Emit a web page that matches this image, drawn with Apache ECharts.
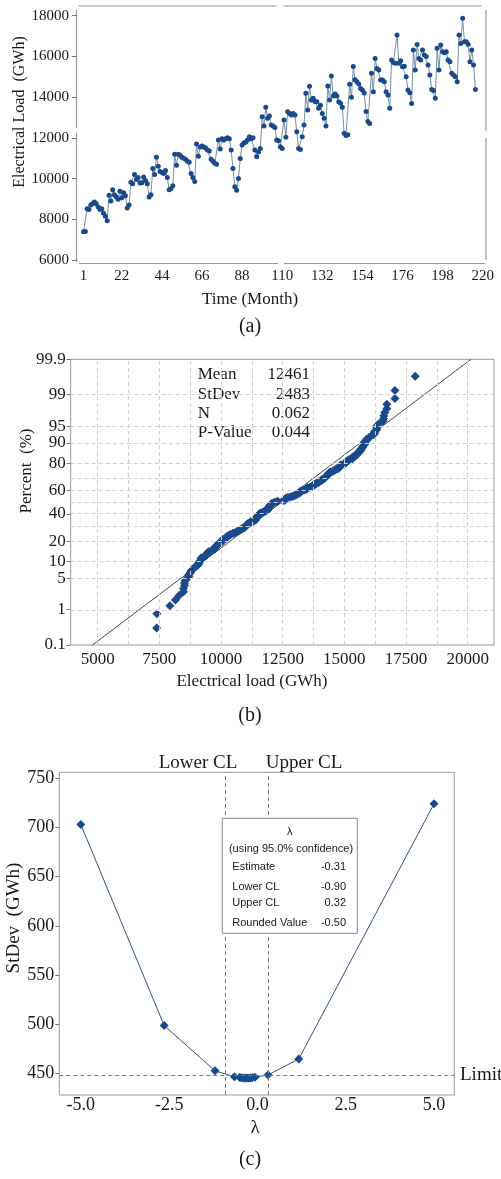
<!DOCTYPE html>
<html><head><meta charset="utf-8">
<script src="https://cdn.jsdelivr.net/npm/echarts@6/dist/echarts.min.js"></script>
<style>html,body{margin:0;padding:0;background:#fff}#c{width:501px;height:1179px}</style>
</head><body><div id="c"></div><script>
// ---------- (a) monthly electrical load (GWh) ----------
const loadGWh = [
 7390, 7400,
 8520, 8480, 8700, 8780, 8850, 8760, 8620, 8480, 8520, 8300, 8150, 7930,
 9180, 8900, 9450, 9200, 9100, 8980, 9380, 9060, 9300, 9150, 8550, 8700,
 9820, 9750, 10200, 9950, 10050, 9780, 9800, 10080, 9900, 9750, 9100, 9200,
 10500, 10200, 11050, 10600, 10350, 10300, 10250, 10400, 10050, 9450, 9500, 9650,
 11200, 10650, 11200, 11150, 11050, 11000, 10950, 10850, 10800, 10250, 10050, 9850,
 11700, 11100, 11550, 11600, 11550, 11500, 11400, 11350, 10950, 10850, 10750, 10700,
 11900, 11450, 11950, 11900, 11950, 12000, 11950, 11400, 10500, 9600, 9430, 10000,
 10990, 11650, 11750, 11800, 11900, 12050, 11950, 12000, 11400, 11070, 11300, 11480,
 13040, 12580, 13500, 12960, 13070, 12630, 12580, 12510, 11890, 11860, 11560, 11480,
 12880, 12030, 13280, 13200, 13120, 13200, 13120, 12300, 11480, 11430, 12060, 12630,
 14190, 13370, 14540, 13860, 13940, 13780, 13770, 13450, 13600, 13200, 12960, 12580,
 14550, 13860, 15040, 14060, 14150, 14050, 13770, 13700, 13500, 12220, 12120, 12150,
 14630, 14000, 15500, 14850, 14750, 14650, 14430, 14350, 14200, 13300, 12800, 12710,
 15170, 14270, 15900, 15410, 15330, 14840, 14840, 14760, 14270, 14100, 13450,
 15820, 15700, 15660, 17050, 15660, 15790, 15490, 15520, 15000, 14350, 14220, 13690,
 16310, 15330, 16590, 15900, 15820, 16310, 16070, 15990, 15580, 15090, 14380, 14320, 13940,
 16400, 15330, 16560, 16230, 16180, 16230, 15820, 15740, 15170, 15090, 15000, 14760,
 17050, 16640, 17870, 16720, 16720, 16600, 15740, 16320, 15580, 14380
];
const aXTicks = [1, 22, 44, 66, 88, 110, 132, 154, 176, 198, 220];
const aYTicks = [6000, 8000, 10000, 12000, 14000, 16000, 18000];

// ---------- (b) normal probability plot ----------
const statNames = ['Mean', 'StDev', 'N', 'P-Value'];
const statTexts = ['12461', '2483', '0.062', '0.044'];
const fitMean = 12461;
const fitStDev = 2483;
const bXTicks = [5000, 7500, 10000, 12500, 15000, 17500, 20000];
const bXGrid = [5000, 6250, 7500, 8750, 10000, 11250, 12500, 13750, 15000, 16250, 17500, 18750, 20000];
const bYTicks = [0.1, 1, 5, 10, 20, 40, 60, 80, 90, 95, 99, 99.9];
const bYGrid = [1, 5, 10, 20, 30, 40, 50, 60, 70, 80, 90, 95, 99];

// ---------- (c) Box-Cox plot ----------
const lambdas = [-5, -2.64, -1.2, -0.65, -0.5, -0.45, -0.4, -0.35, -0.3, -0.25, -0.2, -0.15, -0.07, 0.3, 1.17, 5];
const stDevs  = [703, 498.5, 452.5, 446.5, 445.8, 445.5, 445.3, 445.2, 445.2, 445.2, 445.3, 445.5, 446, 448.3, 464.5, 724];
const cXTicks = [-5, -2.5, 0, 2.5, 5];
const cYTicks = [450, 500, 550, 600, 650, 700, 750];
const lowerCL = -0.90, upperCL = 0.32, limitSD = 448;
const boxRows = [['Estimate', '-0.31'], ['Lower CL', '-0.90'], ['Upper CL', '0.32'], ['Rounded Value', '-0.50']];

// inverse standard normal CDF (Acklam)
function probit(p) {
  const a=[-3.969683028665376e+01,2.209460984245205e+02,-2.759285104469687e+02,1.383577518672690e+02,-3.066479806614716e+01,2.506628277459239e+00];
  const b=[-5.447609879822406e+01,1.615858368580409e+02,-1.556989798598866e+02,6.680131188771972e+01,-1.328068155288572e+01];
  const c=[-7.784894002430293e-03,-3.223964580411365e-01,-2.400758277161838e+00,-2.549732539343734e+00,4.374664141464968e+00,2.938163982698783e+00];
  const d=[7.784695709041462e-03,3.224671290700398e-01,2.445134137142996e+00,3.754408661907416e+00];
  const pl=0.02425, ph=1-pl; let q,r;
  if (p<pl){q=Math.sqrt(-2*Math.log(p));return (((((c[0]*q+c[1])*q+c[2])*q+c[3])*q+c[4])*q+c[5])/((((d[0]*q+d[1])*q+d[2])*q+d[3])*q+1);}
  if (p<=ph){q=p-0.5;r=q*q;return (((((a[0]*r+a[1])*r+a[2])*r+a[3])*r+a[4])*r+a[5])*q/(((((b[0]*r+b[1])*r+b[2])*r+b[3])*r+b[4])*r+1);}
  q=Math.sqrt(-2*Math.log(1-p));return -(((((c[0]*q+c[1])*q+c[2])*q+c[3])*q+c[4])*q+c[5])/((((d[0]*q+d[1])*q+d[2])*q+d[3])*q+1);
}

const SERIF = "'Liberation Serif','Times New Roman',serif";
const SANS = "'Liberation Sans',Arial,sans-serif";
const BLUE = '#1a4a8c';
const TXT = '#1a1a1a';

// derived data
const aData = loadGWh.map((v, i) => [i + 1, v]);
const n = loadGWh.length;
const sorted = loadGWh.slice().sort((x, y) => x - y);
const zMax = probit(0.999);
const zPad = zMax + 0.0002;
const bData = sorted.map((v, i) => [v, probit((i + 1 - 0.3) / (n + 0.4))]);
const bFit = [[fitMean - zMax * fitStDev, -zMax], [fitMean + zMax * fitStDev, zMax]];
const bYTickZ = bYTicks.map(p => probit(p / 100));
const cData = lambdas.map((l, i) => [l, stDevs[i]]);

function zLabel(z) {
  let best = 0;
  bYTickZ.forEach((t, i) => { if (Math.abs(t - z) < Math.abs(bYTickZ[best] - z)) best = i; });
  return String(bYTicks[best]);
}

const chart = echarts.init(document.getElementById('c'), null, {renderer: 'canvas'});

const gLine = (x1, y1, x2, y2, color, dash) => ({type: 'line', silent: true,
  shape: {x1, y1, x2, y2}, style: {stroke: color || '#9a9a9a', lineWidth: 1.2, lineDash: dash || null}});
const gText = (text, x, y, font, opts) => Object.assign({type: 'text', x, y, silent: true,
  style: Object.assign({text, font, fill: TXT, textAlign: 'center', textVerticalAlign: 'middle'}, (opts && opts.style) || {})},
  (opts && opts.el) || {});
const noLine = {show: false, onZero: false};

const option = {
  animation: false,
  backgroundColor: '#fff',
  grid: [
    {left: 83.5, right: 18.3, top: 15.7, height: 244.3},
    {left: 70.7, top: 359.3, width: 423.3, height: 285.7, show: true, borderColor: '#9a9a9a', borderWidth: 1},
    {left: 59.3, top: 772.3, width: 395, height: 322.7, show: true, borderColor: '#9a9a9a', borderWidth: 1}
  ],
  xAxis: [
    {gridIndex: 0, type: 'value', min: 1, max: 220, offset: 3,
     axisLine: noLine, axisTick: {show: false}, splitLine: {show: false},
     axisLabel: {customValues: aXTicks, color: TXT, fontFamily: SERIF, fontSize: 15, margin: 6, formatter: v => String(v)}},
    {gridIndex: 1, type: 'value', min: 3906, max: 21066,
     axisLine: noLine, axisTick: {show: false}, splitLine: {show: false},
     axisLabel: {customValues: bXTicks, color: TXT, fontFamily: SERIF, fontSize: 17, margin: 6, formatter: v => String(v)}},
    {gridIndex: 2, type: 'value', min: -5.61, max: 5.575,
     axisLine: noLine, axisTick: {show: false}, splitLine: {show: false},
     axisLabel: {customValues: cXTicks, color: TXT, fontFamily: SERIF, fontSize: 18, margin: 1, formatter: v => v.toFixed(1)}}
  ],
  yAxis: [
    {gridIndex: 0, type: 'value', min: 6000, max: 18000, interval: 2000, offset: 6.5,
     axisLine: noLine, splitLine: {show: false},
     axisTick: {show: true, length: 5, lineStyle: {color: '#777'}},
     axisLabel: {color: TXT, fontFamily: SERIF, fontSize: 15, margin: 8, showMaxLabel: true, showMinLabel: true, formatter: v => String(v)}},
    {gridIndex: 1, type: 'value', min: -zPad, max: zPad,
     axisLine: noLine, splitLine: {show: false},
     axisTick: {show: true, customValues: bYTickZ, length: 4, lineStyle: {color: '#777'}},
     axisLabel: {customValues: bYTickZ, color: TXT, fontFamily: SERIF, fontSize: 17, margin: 5,
                 showMaxLabel: true, showMinLabel: true, hideOverlap: false, formatter: zLabel}},
    {gridIndex: 2, type: 'value', min: 427.9, max: 756.1,
     axisLine: noLine, splitLine: {show: false},
     axisTick: {show: true, customValues: cYTicks, length: 4, lineStyle: {color: '#777'}},
     axisLabel: {customValues: cYTicks, color: TXT, fontFamily: SERIF, fontSize: 18, margin: 5, formatter: v => String(v)}}
  ],
  series: [
    {type: 'line', xAxisIndex: 0, yAxisIndex: 0, data: aData, symbol: 'circle', symbolSize: 5,
     showSymbol: true, showAllSymbol: true, itemStyle: {color: BLUE},
     lineStyle: {color: '#7590a3', width: 1}, z: 3},
    // grid lines for (b)
    {type: 'line', xAxisIndex: 1, yAxisIndex: 1, data: [], z: 1, silent: true,
     markLine: {silent: true, symbol: 'none', label: {show: false}, animation: false,
       lineStyle: {type: [4, 3], color: '#cfcfcf', width: 1},
       data: bXGrid.map(v => ({xAxis: v})).concat(bYGrid.map(p => ({yAxis: probit(p / 100)})))}},
    {type: 'line', xAxisIndex: 1, yAxisIndex: 1, data: bFit, symbol: 'none',
     lineStyle: {color: '#333', width: 0.9}, z: 2},
    {type: 'scatter', xAxisIndex: 1, yAxisIndex: 1, data: bData, symbol: 'diamond', symbolSize: 9,
     itemStyle: {color: BLUE, opacity: 1}, z: 3},
    {type: 'line', xAxisIndex: 2, yAxisIndex: 2, data: cData, symbol: 'diamond', symbolSize: 9,
     showAllSymbol: true, itemStyle: {color: BLUE}, lineStyle: {color: '#2f5577', width: 1}, z: 3,
     markLine: {silent: true, symbol: 'none', label: {show: false}, animation: false,
       lineStyle: {type: [4, 3], color: '#7a7a7a', width: 1},
       data: [{xAxis: lowerCL}, {xAxis: upperCL}, {yAxis: limitSD}]}}
  ],
  graphic: [
    // (a) frame with small breaks
    gLine(76.5, 10, 76.5, 128), gLine(76.5, 133, 76.5, 262),
    gLine(79, 263.5, 278, 263.5), gLine(284, 263.5, 485, 263.5),
    gLine(78, 6, 277, 6), gLine(283, 6, 482, 6),
    gLine(486, 10, 486, 131), gLine(486, 138, 486, 260),
    gText('Electrical Load  (GWh)', 20, 112, '16px ' + SERIF, {el: {rotation: Math.PI / 2}}),
    gText('Time (Month)', 250, 300, '17px ' + SERIF),
    gText('(a)', 250, 327, '20px ' + SERIF),
    // (b)
    gText('Percent  (%)', 27, 471, '17px ' + SERIF, {el: {rotation: Math.PI / 2}}),
    gText('Electrical load (GWh)', 252, 682, '17px ' + SERIF),
    gText('(b)', 250, 716, '20px ' + SERIF),
    ...statNames.map((s, i) => gText(s, 197.7, 375 + i * 19.3, '17px ' + SERIF, {style: {textAlign: 'left'}})),
    ...statTexts.map((s, i) => gText(s, 310, 375 + i * 19.3, '17px ' + SERIF, {style: {textAlign: 'right'}})),
    // (c)
    gText('StDev  (GWh)', 14, 918, '19px ' + SERIF, {el: {rotation: Math.PI / 2}}),
    gText('Lower CL', 198, 763, '19px ' + SERIF),
    gText('Upper CL', 304, 763, '19px ' + SERIF),
    gText('Limit', 460, 1075, '19px ' + SERIF, {style: {textAlign: 'left'}}),
    gText('λ', 255, 1128, '19px ' + SERIF),
    gText('(c)', 250, 1160, '20px ' + SERIF),
    {type: 'rect', silent: true, z: 10, shape: {x: 222.3, y: 818.3, width: 135, height: 115},
     style: {fill: '#fff', stroke: '#8a8a8a', lineWidth: 1}},
    gText('λ', 289.8, 831.7, '11px ' + SANS, {el: {z: 11}}),
    gText('(using 95.0% confidence)', 291, 849.3, '11px ' + SANS, {el: {z: 11}}),
    ...boxRows.map((r, i) => gText(r[0], 232.3, [866.7, 886.7, 902.7, 922.7][i], '11px ' + SANS, {el: {z: 11}, style: {textAlign: 'left'}})),
    ...boxRows.map((r, i) => gText(r[1], 346, [866.7, 886.7, 902.7, 922.7][i], '11px ' + SANS, {el: {z: 11}, style: {textAlign: 'right'}}))
  ]
};
chart.setOption(option);
</script></body></html>
